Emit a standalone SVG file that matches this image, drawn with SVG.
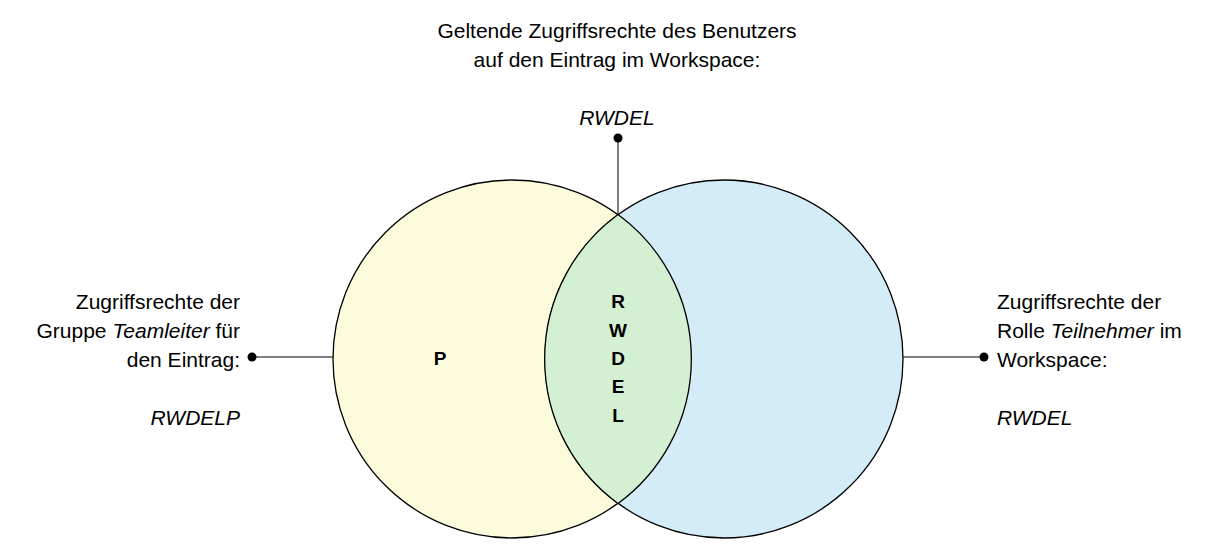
<svg xmlns="http://www.w3.org/2000/svg" width="1217" height="554" viewBox="0 0 1217 554">
<style>
text{font-family:"Liberation Sans",Arial,sans-serif;font-size:21px;fill:#000}
.i{font-style:italic}
.b{font-weight:bold;font-size:19px}
.ln{stroke:#000;stroke-width:1;fill:none}
</style>
<rect width="1217" height="554" fill="#fff"/>
<g id="left"><circle cx="512" cy="359" r="179" fill="#FCFCDC" stroke="#000" stroke-width="1.3"/></g>
<g id="right"><circle cx="724" cy="359" r="179" fill="#D3ECF8" stroke="#000" stroke-width="1.3"/></g>
<g id="lens"><path d="M618 214.5 A179 179 0 0 1 618 503.5 A179 179 0 0 1 618 214.5 Z" fill="#D3F0D3" stroke="#000" stroke-width="1.3"/></g>
<g id="connectors">
<line class="ln" x1="618" y1="138" x2="618" y2="214"/><circle cx="618" cy="138" r="4.5"/>
<line class="ln" x1="252" y1="357" x2="333" y2="357"/><circle cx="252" cy="357" r="4.5"/>
<line class="ln" x1="903" y1="357" x2="984" y2="357"/><circle cx="984" cy="357" r="4.5"/>
</g>
<g id="labels">
<text x="617" y="38" text-anchor="middle">Geltende Zugriffsrechte des Benutzers</text>
<text x="617" y="67" text-anchor="middle">auf den Eintrag im Workspace:</text>
<text x="617" y="125" text-anchor="middle" class="i">RWDEL</text>
<text x="240" y="309" text-anchor="end">Zugriffsrechte der</text>
<text x="240" y="338" text-anchor="end">Gruppe <tspan class="i">Teamleiter</tspan> für</text>
<text x="240" y="367" text-anchor="end">den Eintrag:</text>
<text x="240" y="425" text-anchor="end" class="i">RWDELP</text>
<text x="997" y="309">Zugriffsrechte der</text>
<text x="997" y="338">Rolle <tspan class="i">Teilnehmer</tspan> im</text>
<text x="997" y="367">Workspace:</text>
<text x="997" y="425" class="i">RWDEL</text>
<text x="440" y="365" text-anchor="middle" class="b">P</text>
<g text-anchor="middle"><text x="618" y="308" class="b">R</text><text x="618" y="337" class="b">W</text><text x="618" y="365" class="b">D</text><text x="618" y="393" class="b">E</text><text x="618" y="422" class="b">L</text></g>
</g>
</svg>
